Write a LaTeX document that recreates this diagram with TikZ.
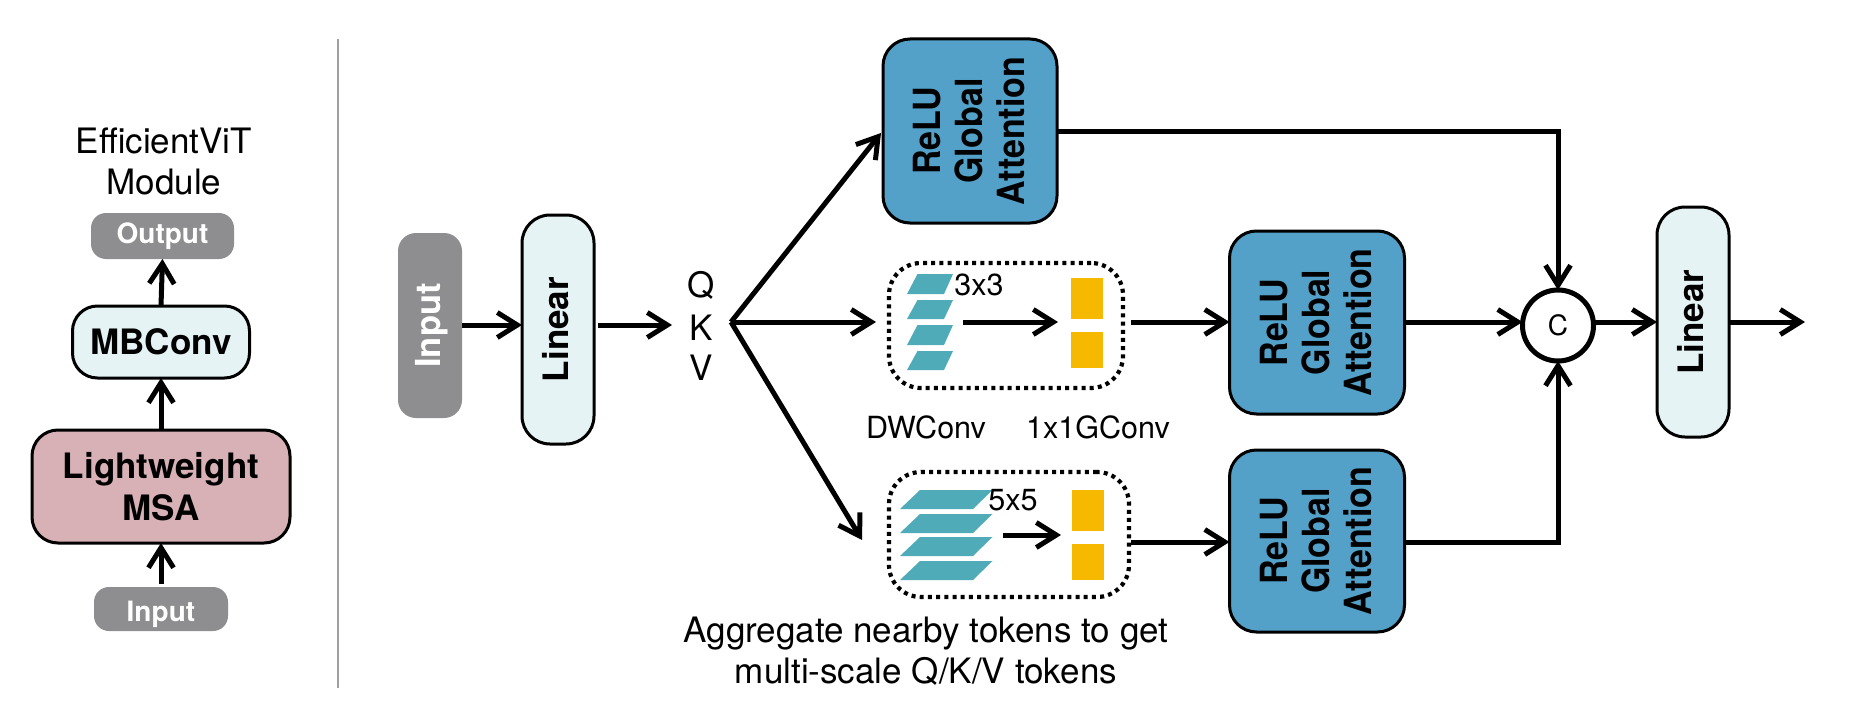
\documentclass[tikz,border=0pt]{standalone}
\usepackage{fontspec}
\usepackage{graphicx}
\setmainfont{TeX Gyre Heros}
\usetikzlibrary{arrows.meta,calc}
\definecolor{graybox}{HTML}{8E8E90}
\definecolor{lightbox}{HTML}{E5F3F4}
\definecolor{pinkbox}{HTML}{D7B1B5}
\definecolor{bluebox}{HTML}{53A1C8}
\definecolor{tealbar}{HTML}{4FABB8}
\definecolor{yellowbar}{HTML}{F7B900}
\definecolor{divider}{HTML}{A0A0A0}
\newcommand{\rotlines}[1]{\hspace*{4pt}\rotatebox{90}{\begin{tabular}{@{}c@{}}#1\end{tabular}}}
\newcommand{\rotattn}[1]{\hspace*{8pt}\rotatebox{90}{\scalebox{1}[1.1]{\begin{tabular}{@{}c@{}}#1\end{tabular}}}}
\tikzset{
  base/.style={inner sep=0pt,outer sep=0pt,align=center},
  boxbase/.style={base,rounded corners=#1,line width=3pt,draw=black},
  grayn/.style={base,rounded corners=#1,fill=graybox,text=white,font=\bfseries\fontsize{34.5}{41}\selectfont},
  grays/.style={base,rounded corners=15pt,fill=graybox,text=white,font=\bfseries\fontsize{28}{32}\selectfont},
  lightn/.style={boxbase=#1,fill=lightbox,font=\bfseries\fontsize{35}{41}\selectfont},
  pinkn/.style={boxbase=26pt,fill=pinkbox,font=\bfseries\fontsize{35}{42}\selectfont},
  attn/.style={boxbase=27pt,fill=bluebox,minimum width=175pt,minimum height=183pt,font=\bfseries\fontsize{34}{38}\selectfont},
  txt/.style={base,font=\fontsize{35}{41}\selectfont},
  small/.style={base,font=\fontsize{30.5}{35}\selectfont},
  dotbox/.style={base,rounded corners=32pt,draw=black,line width=4.2pt,dash pattern=on 4pt off 4.2pt},
  arr/.style={line width=5pt,line join=miter,-{Straight Barb[length=20pt,width=25pt,line width=5pt]}},
  teal/.style={fill=tealbar,draw=none},
  yel/.style={fill=yellowbar,draw=none},
}
\begin{document}
\begin{tikzpicture}[x=1pt,y=-1pt]
\useasboundingbox (0,0) rectangle (1850,706);
% left panel
\node[txt,align=center] (title) at (164,161) {EfficientViT\\[0pt]Module};
\node[grays,minimum width=143pt,minimum height=46pt] (oout) at (162.5,236) {\raisebox{-2pt}{Output}};
\node[lightn=25pt,minimum width=177pt,minimum height=72pt] (mb) at (161,342) {MBConv};
\node[pinkn,minimum width=258pt,minimum height=113pt] (msa) at (161,486.5) {Lightweight\\MSA};
\node[grays,minimum width=134pt,minimum height=44pt] (iin) at (161,609) {\raisebox{-2pt}[\height][0pt]{Input}};
\coordinate (iintop) at (161,584);
\draw[arr] (iintop) -- (msa.south);
\draw[arr] (msa.north) -- (mb.south);
\draw[arr] (mb.north) -- (oout.south);
\coordinate (divtop) at (338,39);
\coordinate (divbot) at (338,688);
\draw[divider,line width=2pt] (divtop) -- (divbot);
% main row
\coordinate (rowa) at (0,325);
\coordinate (rowb) at (0,322);
\coordinate (rowc) at (0,542);
\node[grayn=18pt,minimum width=64pt,minimum height=185pt] (inp) at (430,325.5) {\rotlines{Input}};
\node[lightn=28pt,minimum width=72pt,minimum height=229pt] (lin) at (558,329.5) {\rotlines{Linear}};
\node[txt] (q) at (701,285) {Q};
\node[txt] (k) at (701,328) {K};
\node[txt] (v) at (701,368) {V};
\coordinate (kin) at (672,325);
\coordinate (bp) at (731,322);
\coordinate (botTip) at (862,540);
\draw[arr] (inp.east |- rowa) -- (lin.west |- rowa);
\draw[arr] ($(lin.east |- rowa)+(4,0)$) -- (kin);
% attention blocks
\node[attn,minimum height=184pt,minimum width=174pt] (a1) at (970,131) {\rotattn{ReLU\\Global\\Attention}};
\node[attn] (a2) at (1317,322.5) {\rotattn{ReLU\\Global\\Attention}};
\node[attn,minimum height=182pt] (a3) at (1317,541) {\rotattn{ReLU\\Global\\Attention}};
% dotted boxes
\node[dotbox,minimum width=234pt,minimum height=125pt] (d1) at (1006,325.5) {};
\node[dotbox,minimum width=240pt,minimum height=125pt] (d2) at (1009,534.5) {};
% branches
\draw[arr] (bp) -- ($(a1.west)+(-2,2)$);
\draw[arr] (bp) -- ($(d1.west |- rowb)+(-13,0)$);
\draw[arr] (bp) -- (botTip);
% parallelograms 3x3
\foreach \yt/\yb in {274/294,300/319,325/345,351/370}
  \fill[teal] (917.5,\yt) -- (953,\yt) -- (944,\yb) -- (907,\yb) -- cycle;
\node[small] (t33) at (979,285) {3x3};
\coordinate (i1s) at (963,322);
\coordinate (i1e) at (1058,322);
\draw[arr] (i1s) -- (i1e);
\node[base,yel,minimum width=32pt,minimum height=41pt] (y1) at (1087,298.5) {};
\node[base,yel,minimum width=32pt,minimum height=36pt] (y2) at (1087,350) {};
\node[small] (dw) at (926,427) {DWConv};
\node[small] (gc) at (1098,427) {1x1GConv};
% parallelograms 5x5
\foreach \yt/\yb in {490/509,514/533,537/556,561/580}
  \fill[teal] (920,\yt) -- (992.5,\yt) -- (973,\yb) -- (900,\yb) -- cycle;
\node[small] (t55) at (1013,500) {5x5};
\coordinate (i2s) at (1002.5,535);
\coordinate (i2e) at (1061,535);
\draw[arr] (i2s) -- (i2e);
\node[base,yel,minimum width=32pt,minimum height=41pt] (y3) at (1088,510.5) {};
\node[base,yel,minimum width=32pt,minimum height=36pt] (y4) at (1088,562) {};
\node[txt,align=center,font=\fontsize{35}{41}\selectfont] (cap) at (926,651) {Aggregate nearby tokens to get\\multi-scale Q/K/V tokens};
% outputs of dotted boxes
\draw[arr] ($(d1.east |- rowb)+(8,0)$) -- (a2.west |- rowb);
\draw[arr] ($(d2.east |- rowc)+(2,0)$) -- (a3.west |- rowc);
% concat and output
\node[base,circle,draw=black,line width=5pt,fill=white,minimum size=71pt] (c) at (1558,325.5) {};
\node[base,font=\fontsize{28}{32}\selectfont] (cl) at (c) {C};
\node[lightn=28pt,minimum width=72pt,minimum height=230pt] (lin2) at (1693,322) {\rotlines{Linear}};
\coordinate (endp) at (1805,322);
\draw[arr] (a2.east |- rowb) -- (c.west |- rowb);
\draw[arr] (c.east |- rowb) -- (lin2.west |- rowb);
\draw[arr] (lin2.east |- rowb) -- (endp);
\coordinate (a1o) at (1057,132);
\draw[arr] (a1.east |- a1o) -- (c.north |- a1o) -- (c.north);
\draw[arr] (a3.east |- rowc) -- (c.south |- rowc) -- (c.south);
\end{tikzpicture}
\end{document}
